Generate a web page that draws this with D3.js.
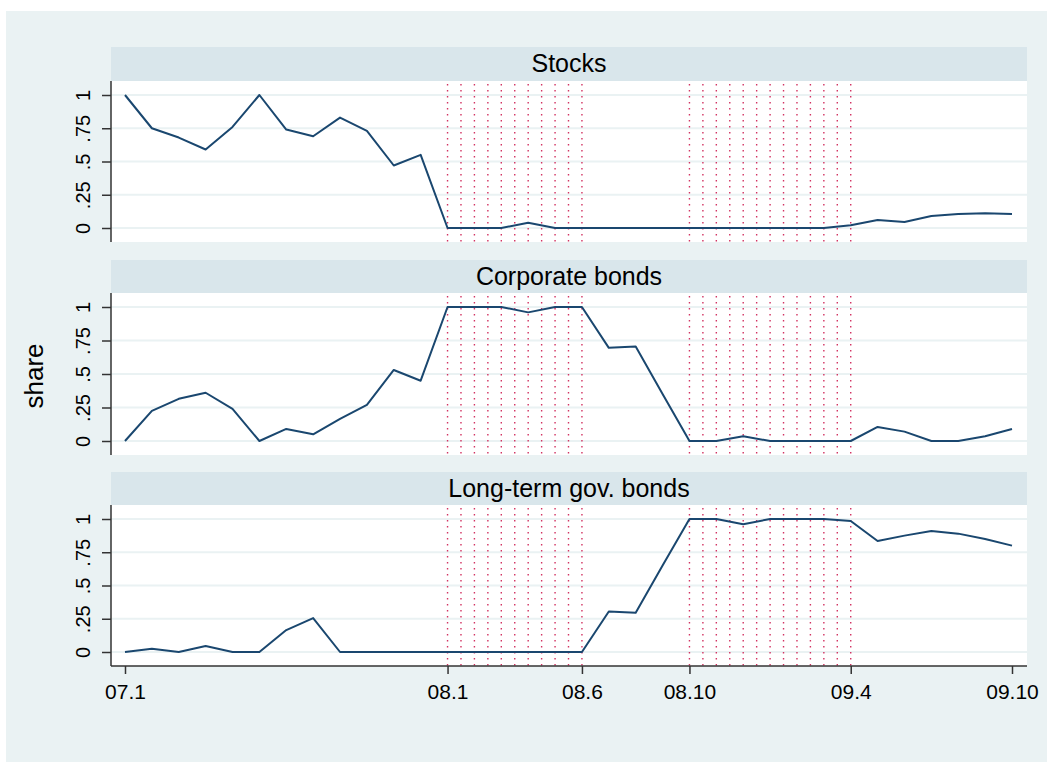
<!DOCTYPE html>
<html>
<head>
<meta charset="utf-8">
<script src="https://cdn.jsdelivr.net/npm/d3@7"></script>
<style>
  html, body { margin: 0; padding: 0; background: #ffffff; }
  svg { display: block; font-family: "Liberation Sans", Arial, sans-serif; }
</style>
</head>
<body>
<svg id="chart" width="1053" height="767"></svg>
<script>
// Monthly periods 07.1 .. 09.10 (34 months), indexed 0..33
const months = d3.range(34);
const tickIndex = [0, 12, 17, 21, 27, 33];
const tickLabels = ["07.1", "08.1", "08.6", "08.10", "09.4", "09.10"];

// Crisis windows (month index start, end), marked by dotted verticals every half month
const windows = [[12, 17], [21, 27]];

const panelTitles = ["Stocks", "Corporate bonds", "Long-term gov. bonds"];

const stocks = [1.00, 0.75, 0.68, 0.59, 0.76, 1.00, 0.74, 0.69, 0.83, 0.73, 0.47, 0.55,
                0.00, 0.00, 0.00, 0.04, 0.00, 0.00, 0.00, 0.00, 0.00, 0.00, 0.00, 0.00,
                0.00, 0.00, 0.00, 0.02, 0.06, 0.045, 0.09, 0.105, 0.11, 0.105];
const corpBonds = [0.00, 0.225, 0.315, 0.36, 0.24, 0.00, 0.09, 0.05, 0.165, 0.27, 0.53, 0.45,
                   1.00, 1.00, 1.00, 0.96, 1.00, 1.00, 0.695, 0.705, 0.35, 0.00, 0.00, 0.035,
                   0.00, 0.00, 0.00, 0.00, 0.105, 0.07, 0.00, 0.00, 0.035, 0.09];
const govBonds = [0.00, 0.025, 0.00, 0.045, 0.00, 0.00, 0.165, 0.255, 0.00, 0.00, 0.00, 0.00,
                  0.00, 0.00, 0.00, 0.00, 0.00, 0.00, 0.305, 0.295, 0.65, 1.00, 1.00, 0.96,
                  1.00, 1.00, 1.00, 0.985, 0.835, 0.875, 0.91, 0.89, 0.85, 0.80];

const yTicks = [0, 0.25, 0.5, 0.75, 1];
const yTickLabels = ["0", ".25", ".5", ".75", "1"];

const series = [stocks, corpBonds, govBonds];

const svg = d3.select("#chart");

// Outer graph region
svg.append("rect")
  .attr("x", 6).attr("y", 11).attr("width", 1041).attr("height", 751)
  .attr("fill", "#eaf2f3");

const plotLeft = 111, plotRight = 1027;
const x = d3.scaleLinear().domain([0, 33]).range([125, 1012]);

// Panel layout: strip header top, plot top and bottom
const panels = [
  { stripTop: 47, plotTop: 81, plotBottom: 242 },
  { stripTop: 260, plotTop: 293, plotBottom: 455 },
  { stripTop: 472, plotTop: 505, plotBottom: 666 }
];

panels.forEach((p, k) => {
  const pad = 14;
  const y = d3.scaleLinear().domain([0, 1]).range([p.plotBottom - pad, p.plotTop + pad]);
  const g = svg.append("g");

  // Strip header
  g.append("rect")
    .attr("x", plotLeft).attr("y", p.stripTop)
    .attr("width", plotRight - plotLeft).attr("height", p.plotTop - p.stripTop)
    .attr("fill", "#d9e6eb");
  g.append("text")
    .attr("x", (plotLeft + plotRight) / 2).attr("y", p.stripTop + 25)
    .attr("text-anchor", "middle").attr("font-size", 25).attr("fill", "#000")
    .text(panelTitles[k]);

  // Plot area
  g.append("rect")
    .attr("x", plotLeft).attr("y", p.plotTop)
    .attr("width", plotRight - plotLeft).attr("height", p.plotBottom - p.plotTop)
    .attr("fill", "#ffffff");

  // Horizontal grid
  g.selectAll("line.grid").data(yTicks).join("line")
    .attr("class", "grid")
    .attr("x1", plotLeft).attr("x2", plotRight)
    .attr("y1", d => y(d)).attr("y2", d => y(d))
    .attr("stroke", "#eaf2f3").attr("stroke-width", 2);

  // Dotted verticals over crisis windows
  windows.forEach(([a, b]) => {
    const marks = d3.range(a, b + 0.001, 0.5);
    g.selectAll(null).data(marks).join("line")
      .attr("x1", d => x(d)).attr("x2", d => x(d))
      .attr("y1", p.plotTop + 3).attr("y2", p.plotBottom)
      .attr("stroke", "#d23362").attr("stroke-width", 1.4)
      .attr("stroke-dasharray", "1.4,4.6");
  });

  // Series line
  g.append("path")
    .datum(months)
    .attr("fill", "none")
    .attr("stroke", "#1a476f").attr("stroke-width", 2)
    .attr("stroke-linejoin", "round")
    .attr("d", d3.line().x(i => x(i)).y(i => y(series[k][i])));

  // Left axis
  const axisL = d3.axisLeft(y).tickValues(yTicks)
    .tickFormat((d, i) => yTickLabels[i]).tickSize(9);
  const ag = g.append("g").attr("transform", `translate(${plotLeft},0)`).call(axisL);
  ag.select(".domain")
    .attr("d", `M0,${p.plotTop}V${p.plotBottom}`)
    .attr("stroke", "#333").attr("stroke-width", 1.5);
  ag.selectAll(".tick line").attr("stroke", "#333").attr("stroke-width", 1.5);
  ag.selectAll(".tick text")
    .attr("font-size", 20).attr("fill", "#000")
    .attr("font-family", "Liberation Sans, Arial, sans-serif")
    .attr("text-anchor", "middle")
    .attr("dy", null).attr("x", 0).attr("y", 0)
    .attr("transform", "translate(-21,0) rotate(-90)");

  // Bottom axis only on the last panel
  if (k === panels.length - 1) {
    const axisB = d3.axisBottom(x).tickValues(tickIndex)
      .tickFormat((d, i) => tickLabels[i]).tickSize(8).tickPadding(10);
    const bg = g.append("g").attr("transform", `translate(0,${p.plotBottom})`).call(axisB);
    bg.select(".domain")
      .attr("d", `M${plotLeft},0H${plotRight}`)
      .attr("stroke", "#333").attr("stroke-width", 1.5);
    bg.selectAll(".tick line").attr("stroke", "#333").attr("stroke-width", 1.5);
    bg.selectAll(".tick text")
      .attr("font-size", 21).attr("fill", "#000")
      .attr("font-family", "Liberation Sans, Arial, sans-serif");
  }
});

// Shared y-axis title
svg.append("text")
  .attr("transform", "translate(43,376) rotate(-90)")
  .attr("text-anchor", "middle").attr("font-size", 26).attr("fill", "#000")
  .text("share");
</script>
</body>
</html>
